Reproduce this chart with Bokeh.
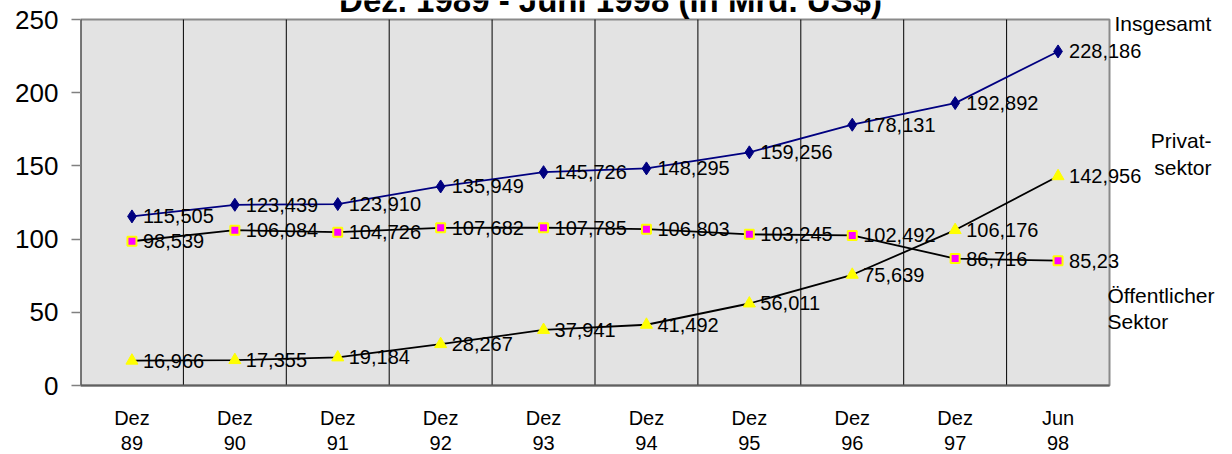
from bokeh.plotting import figure
from bokeh.models import Range1d, FixedTicker, ColumnDataSource
from bokeh.core.properties import value
from bokeh.embed import file_html
from bokeh.resources import INLINE

# ---------------- data ----------------
cat_month = ["Dez", "Dez", "Dez", "Dez", "Dez", "Dez", "Dez", "Dez", "Dez", "Jun"]
cat_year = ["89", "90", "91", "92", "93", "94", "95", "96", "97", "98"]

insgesamt = [115.505, 123.439, 123.910, 135.949, 145.726, 148.295, 159.256, 178.131, 192.892, 228.186]
insgesamt_lbl = ["115,505", "123,439", "123,910", "135,949", "145,726", "148,295", "159,256", "178,131", "192,892", "228,186"]

oeffentlich = [98.539, 106.084, 104.726, 107.682, 107.785, 106.803, 103.245, 102.492, 86.716, 85.23]
oeffentlich_lbl = ["98,539", "106,084", "104,726", "107,682", "107,785", "106,803", "103,245", "102,492", "86,716", "85,23"]

privat = [16.966, 17.355, 19.184, 28.267, 37.941, 41.492, 56.011, 75.639, 106.176, 142.956]
privat_lbl = ["16,966", "17,355", "19,184", "28,267", "37,941", "41,492", "56,011", "75,639", "106,176", "142,956"]

y_ticks = [0, 50, 100, 150, 200, 250]
y_min, y_max = 0, 250
title_text = "Dez. 1989 - Juni 1998 (in Mrd. US$)"

# ---------------- layout ----------------
FONT = "Liberation Sans"
W, H = 1232, 454
PL, PR, PT, PB = 80, 1109, 19, 385   # plot-area box in canvas pixels
N = len(cat_year)
SX = (PR - PL) / N                   # px per category
SY = (PB - PT) / (y_max - y_min)     # px per unit


def xd(px):
    return (px - PL) / SX


def yd(py):
    return (PB - py) / SY


xc = [i + 0.5 for i in range(N)]

p = figure(width=W, height=H,
           x_range=Range1d(0, xd(W)), y_range=Range1d(yd(H), yd(0)),
           output_backend="svg", toolbar_location=None,
           min_border=0, min_border_left=PL, min_border_right=0,
           min_border_top=0, min_border_bottom=0, x_axis_location=None)

p.background_fill_color = "white"
p.border_fill_color = "white"
p.outline_line_color = None
p.xgrid.grid_line_color = None
p.ygrid.grid_line_color = None

# y axis (real axis, ticks only inside 0..250)
p.yaxis.ticker = FixedTicker(ticks=y_ticks)
p.yaxis.major_label_text_font = FONT
p.yaxis.major_label_text_font_size = "26px"
p.yaxis.major_label_text_color = "black"
p.yaxis.major_tick_out = 9
p.yaxis.major_tick_in = 0
p.yaxis.minor_tick_line_color = None
p.yaxis.major_tick_line_color = "#808080"
p.yaxis.major_tick_line_width = 1.5
p.yaxis.major_label_standoff = 13
p.yaxis.axis_line_color = None

# plot area
p.quad(left=0, right=N, bottom=y_min, top=y_max, fill_color="#e3e3e3",
       line_color="#8a8a8a", line_width=2)
p.segment(x0=list(range(1, N)), y0=[y_min] * (N - 1), x1=list(range(1, N)),
          y1=[y_max] * (N - 1), line_color="black", line_width=1)
p.segment(x0=[0], y0=[y_min], x1=[0], y1=[y_max], line_color="#303030", line_width=2)
p.segment(x0=[0], y0=[y_min], x1=[N], y1=[y_min], line_color="#606060", line_width=2)

# category labels
src_cat = ColumnDataSource(dict(x=xc, m=cat_month, yr=cat_year,
                                y1=[yd(417)] * N, y2=[yd(442)] * N))
p.text(x="x", y="y1", text="m", source=src_cat, text_align="center",
       text_baseline="middle", text_font=value(FONT), text_font_size="20px",
       text_color="black")
p.text(x="x", y="y2", text="yr", source=src_cat, text_align="center",
       text_baseline="middle", text_font=value(FONT), text_font_size="20px",
       text_color="black")

# series
p.line(xc, insgesamt, line_color="#000080", line_width=1.8)
p.line(xc, oeffentlich, line_color="black", line_width=1.8)
p.line(xc, privat, line_color="black", line_width=1.8)

for vals, lbls in ((insgesamt, insgesamt_lbl), (oeffentlich, oeffentlich_lbl), (privat, privat_lbl)):
    s = ColumnDataSource(dict(x=xc, y=vals, t=lbls))
    p.text(x="x", y="y", text="t", source=s, x_offset=11, y_offset=0,
           text_align="left", text_baseline="middle", text_font=value(FONT),
           text_font_size="20px", text_color="black")

p.scatter(xc, insgesamt, marker="diamond", size=13, fill_color="#000080",
          line_color="#000080")
p.scatter(xc, oeffentlich, marker="square", size=9, fill_color="#ff00ff",
          line_color="#ffff00", line_width=2)
p.scatter(xc, privat, marker="triangle", size=12, fill_color="#ffff00",
          line_color="#ffff00")


def add_text(text, px, py, align="left", size="21px", bold=False, baseline="middle"):
    p.text(x=[xd(px)], y=[yd(py)], text=[text], text_align=align,
           text_baseline=baseline, text_font=value(FONT), text_font_size=size,
           text_font_style="bold" if bold else "normal", text_color="black")


# series names
add_text("Insgesamt", 1114, 23)
add_text("Privat-", 1211, 140, align="right")
add_text("sektor", 1211, 167, align="right")
add_text("Öffentlicher", 1107, 295)
add_text("Sektor", 1107, 321)

# title (sits at the very top edge, cut off like the reference)
add_text(title_text, 610, 0, align="center", size="33px", bold=True, baseline="alphabetic")

open("out.html", "w").write(file_html(p, INLINE))
